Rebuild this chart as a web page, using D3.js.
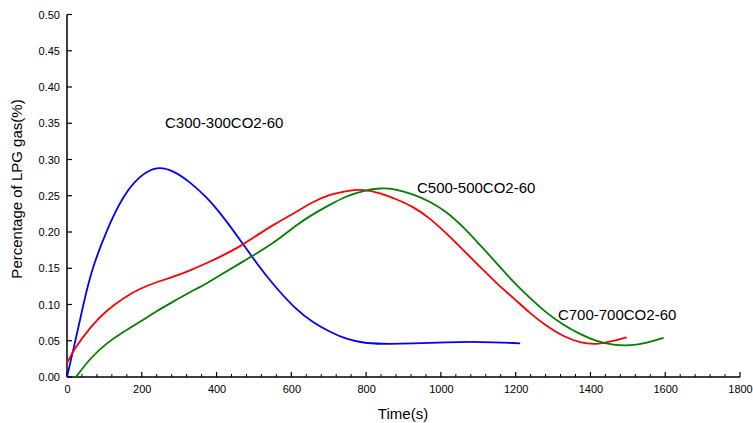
<!DOCTYPE html>
<html>
<head>
<meta charset="utf-8">
<script src="https://cdn.jsdelivr.net/npm/d3@7"></script>
<style>
  body { margin: 0; background: #fff; }
  text { font-family: Arial, "Liberation Sans", sans-serif; }
</style>
</head>
<body>
<svg width="753" height="423"></svg>
<script>
// values
var xTicks = [0, 200, 400, 600, 800, 1000, 1200, 1400, 1600, 1800];
var yTicks = [0, 0.05, 0.10, 0.15, 0.20, 0.25, 0.30, 0.35, 0.40, 0.45, 0.50];

var blueT = [0, 18, 35, 62, 106, 151, 195, 240, 284, 329, 374, 418, 463, 507, 552, 614, 659, 704, 748, 793, 837, 926, 1015, 1105, 1212];
var blueV = [0, 0.040, 0.079, 0.143, 0.203, 0.251, 0.278, 0.291, 0.285, 0.269, 0.248, 0.221, 0.189, 0.157, 0.127, 0.092, 0.075, 0.062, 0.052, 0.047, 0.0455, 0.046, 0.048, 0.0487, 0.0465];

var redT = [0, 17, 62, 106, 151, 195, 240, 284, 329, 374, 418, 463, 507, 552, 614, 659, 704, 748, 793, 837, 882, 926, 971, 1015, 1060, 1105, 1149, 1194, 1238, 1283, 1327, 1372, 1417, 1462, 1497];
var redV = [0.019, 0.037, 0.069, 0.092, 0.109, 0.122, 0.131, 0.138, 0.147, 0.157, 0.168, 0.180, 0.195, 0.210, 0.228, 0.242, 0.252, 0.257, 0.259, 0.254, 0.245, 0.235, 0.219, 0.198, 0.175, 0.152, 0.129, 0.109, 0.088, 0.070, 0.056, 0.047, 0.0445, 0.0497, 0.0547];

var greenT = [24, 62, 106, 151, 195, 240, 284, 329, 374, 418, 463, 552, 614, 659, 704, 748, 793, 837, 882, 926, 971, 1015, 1060, 1105, 1149, 1194, 1238, 1283, 1327, 1372, 1417, 1462, 1506, 1551, 1596];
var greenV = [0, 0.026, 0.047, 0.0625, 0.076, 0.091, 0.104, 0.117, 0.129, 0.143, 0.157, 0.184, 0.210, 0.225, 0.238, 0.2497, 0.257, 0.261, 0.259, 0.252, 0.242, 0.228, 0.207, 0.182, 0.157, 0.131, 0.109, 0.088, 0.072, 0.059, 0.049, 0.044, 0.043, 0.047, 0.054];

var labels = ["C300-300CO2-60", "C500-500CO2-60", "C700-700CO2-60"];
var labelPos = [[262, 0.343], [936, 0.254], [1313, 0.079]];

var svg = d3.select("svg"),
    x0 = 67, x1 = 740, y0 = 377, y1 = 14.5;

var x = d3.scaleLinear().domain([0, 1800]).range([x0, x1]);
var y = d3.scaleLinear().domain([0, 0.5]).range([y0, y1]);

// minor x ticks every 40
var minor = d3.range(0, 1801, 40).filter(function(d) { return d % 200 != 0; });

var gx = svg.append("g").attr("transform", "translate(0," + y0 + ")");
gx.call(d3.axisBottom(x).tickValues(xTicks).tickSize(0).tickPadding(8).tickFormat(d3.format("d")));
gx.select(".domain").remove();
gx.selectAll(".tick text").attr("font-size", 11).attr("fill", "#000");
gx.selectAll(".maj").data(xTicks).enter().append("line")
    .attr("x1", function(d) { return x(d); }).attr("x2", function(d) { return x(d); })
    .attr("y1", 0).attr("y2", -5).attr("stroke", "#000").attr("stroke-width", 1.2);
gx.selectAll(".min").data(minor).enter().append("line")
    .attr("x1", function(d) { return x(d); }).attr("x2", function(d) { return x(d); })
    .attr("y1", 0).attr("y2", -3).attr("stroke", "#000").attr("stroke-width", 1);
gx.append("line").attr("x1", x0).attr("x2", x1).attr("stroke", "#000").attr("stroke-width", 1.5);

var gy = svg.append("g").attr("transform", "translate(" + x0 + ",0)");
gy.call(d3.axisLeft(y).tickValues(yTicks).tickSize(0).tickPadding(7).tickFormat(d3.format(".2f")));
gy.select(".domain").remove();
gy.selectAll(".tick text").attr("font-size", 11).attr("fill", "#000");
gy.selectAll(".maj").data(yTicks).enter().append("line")
    .attr("y1", function(d) { return y(d); }).attr("y2", function(d) { return y(d); })
    .attr("x1", 0).attr("x2", 5).attr("stroke", "#000").attr("stroke-width", 1.2);
gy.append("line").attr("y1", y0).attr("y2", y1).attr("stroke", "#000").attr("stroke-width", 1.5);

var line = d3.line()
    .x(function(d) { return x(d[0]); })
    .y(function(d) { return y(d[1]); })
    .curve(d3.curveBasis);

var series = [[blueT, blueV, "#0000ff"], [redT, redV, "#ff0000"], [greenT, greenV, "#008000"]];
series.forEach(function(s) {
  svg.append("path")
    .datum(d3.zip(s[0], s[1]))
    .attr("d", line)
    .attr("fill", "none")
    .attr("stroke", s[2])
    .attr("stroke-width", 1.8);
});

labels.forEach(function(l, i) {
  svg.append("text")
    .attr("x", x(labelPos[i][0]))
    .attr("y", y(labelPos[i][1]))
    .attr("font-size", 15)
    .text(l);
});

svg.append("text")
  .attr("x", 403)
  .attr("y", 419)
  .attr("text-anchor", "middle")
  .attr("font-size", 15)
  .text("Time(s)");

svg.append("text")
  .attr("transform", "translate(22," + 189 + ") rotate(-90)")
  .attr("text-anchor", "middle")
  .attr("font-size", 15)
  .text("Percentage of LPG gas(%)");
</script>
</body>
</html>
